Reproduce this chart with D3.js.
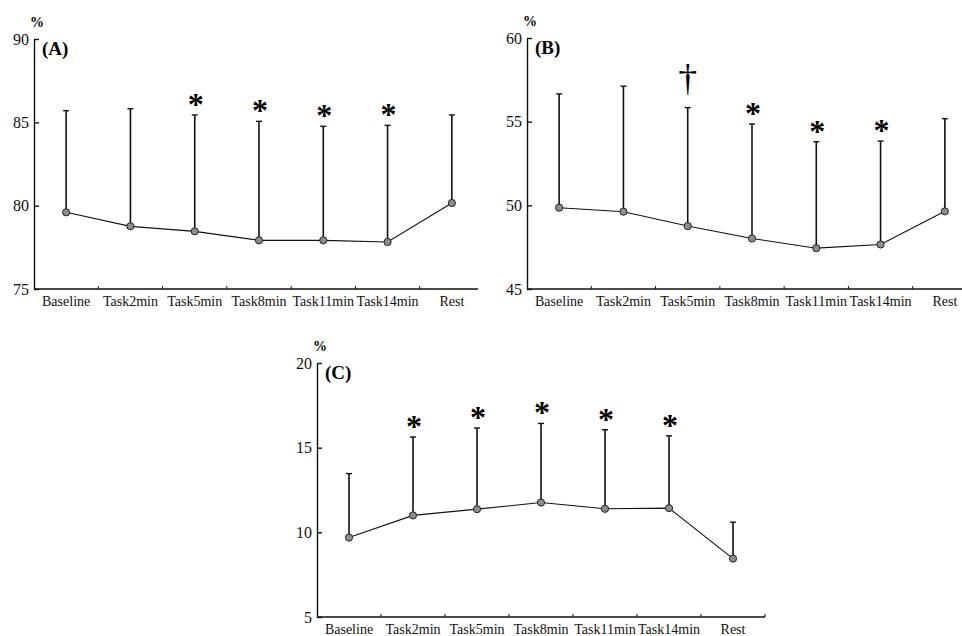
<!DOCTYPE html>
<html>
<head>
<meta charset="utf-8">
<script src="https://cdn.jsdelivr.net/npm/d3@7"></script>
<style>
  body { margin: 0; background: #fff; }
  svg { display: block; }
  .axis text { font-family: "Liberation Serif", "Times New Roman", serif; fill: #111; }
  .axis path, .axis line { stroke: #111; }
</style>
</head>
<body>
<div id="chart"></div>
<script>
// Categories shared by all three panels
const categories = ['Baseline', 'Task2min', 'Task5min', 'Task8min', 'Task11min', 'Task14min', 'Rest'];

// (A) mean values, upper error bar (mean + SD), significance marks
const meanA = [79.6, 78.76, 78.46, 77.92, 77.92, 77.82, 80.16];
const topA = [85.7, 85.82, 85.44, 85.06, 84.76, 84.82, 85.44];
const markA = ['', '', '*', '*', '*', '*', ''];
const ticksA = [75, 80, 85, 90];

// (B)
const meanB = [49.86, 49.62, 48.76, 48.02, 47.44, 47.66, 49.64];
const topB = [56.66, 57.12, 55.84, 54.86, 53.8, 53.84, 55.18];
const markB = ['', '', '\u2020', '*', '*', '*', ''];
const ticksB = [45, 50, 55, 60];

// (C)
const meanC = [9.69, 11.0, 11.37, 11.76, 11.39, 11.43, 8.45];
const topC = [13.47, 15.63, 16.16, 16.43, 16.06, 15.7, 10.6];
const markC = ['', '*', '*', '*', '*', '*', ''];
const ticksC = [5, 10, 15, 20];

class ErrorLinePanel {

  constructor(_config, _mean, _top, _marks, _ticks) {
    this.config = _config;
    this.mean = _mean;
    this.top = _top;
    this.marks = _marks;
    this.ticks = _ticks;
    this.initVis();
  }

  initVis() {
    let vis = this;
    let c = vis.config;

    vis.data = categories.map((d, i) => ({
      cat: d, mean: vis.mean[i], top: vis.top[i], mark: vis.marks[i]
    }));

    // Scales
    vis.xScale = d3.scaleBand()
      .domain(categories)
      .range([c.left, c.right]);

    vis.yScale = d3.scaleLinear()
      .domain(d3.extent(vis.ticks))
      .range([c.bottom, c.top]);

    vis.g = c.svg.append('g');

    // Y axis with inward ticks
    vis.yAxisG = vis.g.append('g')
      .attr('class', 'axis y-axis')
      .attr('transform', `translate(${c.left},0)`)
      .call(d3.axisLeft(vis.yScale)
        .tickValues(vis.ticks)
        .tickFormat(d3.format('d'))
        .tickSizeInner(-5)
        .tickSizeOuter(0)
        .tickPadding(5));
    vis.yAxisG.selectAll('text').style('font-size', '16px');
    vis.yAxisG.selectAll('path, line').attr('stroke-width', 1.4);

    // X axis: line, labels at band centres, small upward ticks at band edges
    vis.xAxisG = vis.g.append('g')
      .attr('class', 'axis x-axis')
      .attr('transform', `translate(0,${c.bottom})`)
      .call(d3.axisBottom(vis.xScale).tickSize(0).tickPadding(7));
    vis.xAxisG.select('.domain').remove();
    vis.xAxisG.selectAll('text').style('font-size', '14px');

    vis.xAxisG.append('line')
      .attr('x1', c.left)
      .attr('x2', c.axisEnd)
      .attr('stroke', '#111')
      .attr('stroke-width', 1.4);

    let edges = categories.slice(1).map(d => vis.xScale(d));
    if (c.endTick) edges.push(c.axisEnd);
    vis.xAxisG.selectAll('.edge')
      .data(edges)
      .join('line')
      .attr('class', 'edge')
      .attr('x1', d => d).attr('x2', d => d)
      .attr('y1', 0).attr('y2', -3)
      .attr('stroke', '#111');

    // Unit and panel label
    vis.g.append('text')
      .attr('x', c.left + 3)
      .attr('y', c.top - 12)
      .attr('text-anchor', 'middle')
      .style('font-family', 'Liberation Serif, serif')
      .style('font-size', '14px')
      .style('font-weight', 'bold')
      .text('%');

    vis.g.append('text')
      .attr('x', c.left + 8)
      .attr('y', c.top + 16)
      .style('font-family', 'Liberation Serif, serif')
      .style('font-size', '19px')
      .style('font-weight', 'bold')
      .text(c.label);

    vis.renderVis();
  }

  renderVis() {
    let vis = this;
    let cx = d => vis.xScale(d.cat) + vis.xScale.bandwidth() / 2;

    // Upper error bars
    vis.g.selectAll('.err')
      .data(vis.data)
      .join('line')
      .attr('class', 'err')
      .attr('x1', cx).attr('x2', cx)
      .attr('y1', d => vis.yScale(d.mean))
      .attr('y2', d => vis.yScale(d.top))
      .attr('stroke', '#111')
      .attr('stroke-width', 1.6);

    vis.g.selectAll('.cap')
      .data(vis.data)
      .join('line')
      .attr('class', 'cap')
      .attr('x1', d => cx(d) - 3).attr('x2', d => cx(d) + 3)
      .attr('y1', d => vis.yScale(d.top))
      .attr('y2', d => vis.yScale(d.top))
      .attr('stroke', '#111')
      .attr('stroke-width', 1.4);

    // Mean line
    let line = d3.line()
      .x(cx)
      .y(d => vis.yScale(d.mean));

    vis.g.append('path')
      .datum(vis.data)
      .attr('d', line)
      .attr('fill', 'none')
      .attr('stroke', '#111')
      .attr('stroke-width', 1.1);

    // Points
    vis.g.selectAll('.pt')
      .data(vis.data)
      .join('circle')
      .attr('class', 'pt')
      .attr('cx', cx)
      .attr('cy', d => vis.yScale(d.mean))
      .attr('r', 3.6)
      .attr('fill', '#8c8c8c')
      .attr('stroke', '#222')
      .attr('stroke-width', 1);

    // Significance marks above error bars (asterisk or dagger)
    let isStar = d => d.mark === '*';
    vis.g.selectAll('.mark')
      .data(vis.data.filter(d => d.mark))
      .join('text')
      .attr('class', 'mark')
      .attr('x', d => cx(d) + (isStar(d) ? 1 : 0))
      .attr('y', d => vis.yScale(d.top) - (isStar(d) ? 0 : 17))
      .attr('text-anchor', 'middle')
      .style('font-family', 'Liberation Serif, serif')
      .style('font-size', d => isStar(d) ? '32px' : '38px')
      .style('font-weight', d => isStar(d) ? 'bold' : 'normal')
      .text(d => d.mark);
  }
}

const svg = d3.select('#chart')
  .append('svg')
  .attr('width', 962)
  .attr('height', 636);

new ErrorLinePanel({ svg, label: '(A)', left: 34, right: 484, top: 39, bottom: 289, axisEnd: 478, endTick: false },
  meanA, topA, markA, ticksA);
new ErrorLinePanel({ svg, label: '(B)', left: 527, right: 977, top: 38, bottom: 289, axisEnd: 962, endTick: false },
  meanB, topB, markB, ticksB);
new ErrorLinePanel({ svg, label: '(C)', left: 317, right: 765, top: 363, bottom: 617, axisEnd: 765, endTick: true },
  meanC, topC, markC, ticksC);
</script>
</body>
</html>
